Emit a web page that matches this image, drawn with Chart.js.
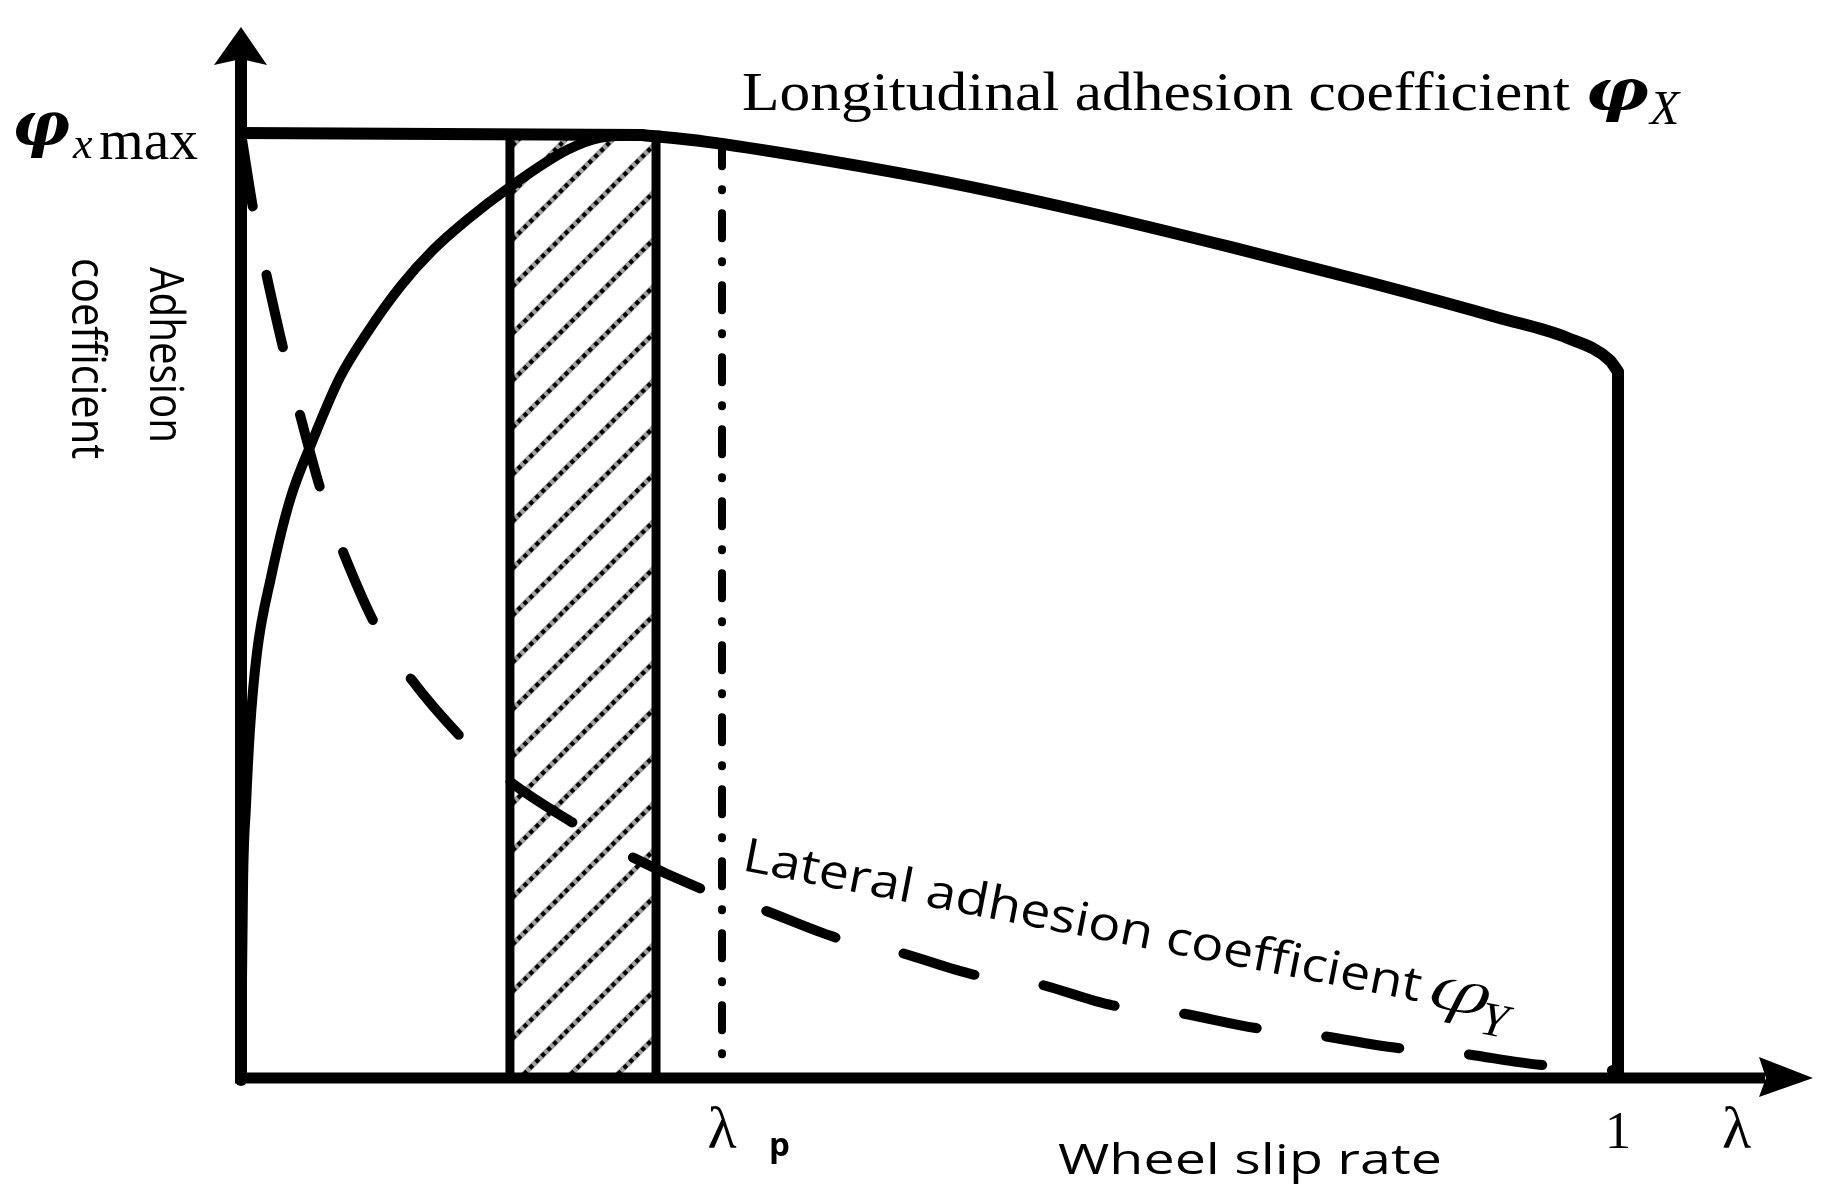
<!DOCTYPE html>
<html>
<head>
<meta charset="utf-8">
<title>Adhesion coefficient vs wheel slip rate</title>
<script src="https://cdn.jsdelivr.net/npm/chart.js@4.4.0/dist/chart.umd.min.js"></script>
<style>
  html, body { margin: 0; padding: 0; background: #fff; }
  #grafico { display: block; }
</style>
</head>
<body>
<canvas id="grafico" width="1838" height="1201"></canvas>
<script>
// longitudinal adhesion coefficient phi_x, rising part (origin -> peak)
var subidaX = [0, 0.0015, 0.0036, 0.0065, 0.0116, 0.0218, 0.0356, 0.0523, 0.0719, 0.0915, 0.1155, 0.1394, 0.1641, 0.1954, 0.2367, 0.2607, 0.2912];
var subidaY = [0, 0.207, 0.288, 0.369, 0.451, 0.531, 0.613, 0.677, 0.743, 0.790, 0.839, 0.878, 0.910, 0.945, 0.984, 0.997, 1.0];

// phi_x after the peak, down to slip rate 1
var quedaX = [0.2912, 0.337, 0.413, 0.516, 0.617, 0.719, 0.821, 0.914, 0.963, 0.994, 1.0];
var quedaY = [1.0, 0.993, 0.976, 0.949, 0.917, 0.881, 0.843, 0.806, 0.785, 0.761, 0.749];

// phi_x max line and the drop at slip rate 1
var maxX = [0, 0.2912];
var maxY = [1.002, 1.0];
var fimX = [1.0, 1.0];
var fimY = [0.749, 0];

// lateral adhesion coefficient phi_y (dashed)
var lateralX = [0, 0.0102, 0.0189, 0.0327, 0.0429, 0.0595, 0.0741, 0.0988, 0.122, 0.162, 0.193, 0.244, 0.279, 0.337, 0.376, 0.434, 0.476, 0.534, 0.575, 0.633, 0.677, 0.737, 0.779, 0.839, 0.881, 0.943, 0.983, 1.0];
var lateralY = [1.002, 0.910, 0.849, 0.761, 0.703, 0.616, 0.558, 0.477, 0.426, 0.358, 0.317, 0.268, 0.238, 0.199, 0.180, 0.148, 0.134, 0.109, 0.101, 0.077, 0.070, 0.053, 0.046, 0.032, 0.027, 0.014, 0.011, 0.007];

// hatched band and the optimal slip rate lambda_p
var zonaX = [0.1953, 0.1953, 0.3014, 0.3014];
var zonaY = [0, 1.0, 1.0, 0];
var lambdaP = 0.3493;
var lambdaPTopo = 0.987;

// tick labels on the slip axis
var ticksValores = [lambdaP, 1];
var ticksTextos = ["\u03bb", "1"];
var eixoXNome = "\u03bb";
var eixoXNomePos = 1.086;

function pontos(xs, ys) {
  var lista = [];
  for (var i = 0; i < xs.length; i++) {
    lista.push({ x: xs[i], y: ys[i] });
  }
  return lista;
}

function criarHachura(ctx) {
  var t = 47;
  var c = document.createElement("canvas");
  c.width = t;
  c.height = t;
  var g = c.getContext("2d");
  g.fillStyle = "#fff";
  g.fillRect(0, 0, t, t);
  var linhas = [[-5, 5, 5, -5], [-5, t + 5, t + 5, -5], [t - 5, t + 5, t + 5, t - 5]];
  for (var k = 0; k < linhas.length; k++) {
    var l = linhas[k];
    g.beginPath();
    g.moveTo(l[0], l[1]);
    g.lineTo(l[2], l[3]);
    g.strokeStyle = "#a0a0a0";
    g.lineWidth = 5.5;
    g.stroke();
    g.setLineDash([4.2, 4.2]);
    g.strokeStyle = "#000";
    g.lineWidth = 4.2;
    g.stroke();
    g.setLineDash([]);
  }
  return ctx.createPattern(c, "repeat");
}

function escrever(ctx, txt, fonte, x, y, largura, angulo, alinhar, afinar) {
  ctx.save();
  ctx.font = fonte;
  ctx.textAlign = "left";
  ctx.textBaseline = "alphabetic";
  ctx.translate(x, y);
  if (angulo) ctx.rotate(angulo);
  var w = ctx.measureText(txt).width;
  var sx = largura ? largura / w : 1;
  ctx.scale(sx, 1);
  var dx = alinhar === "center" ? -w / 2 : 0;
  ctx.fillText(txt, dx, 0);
  if (afinar) {
    // thin the glyph strokes a little
    ctx.strokeStyle = "#fff";
    ctx.lineWidth = afinar;
    ctx.strokeText(txt, dx, 0);
  }
  ctx.restore();
}

var eixos = {
  id: "eixos",
  afterDatasetsDraw: function (chart) {
    var ctx = chart.ctx;
    var area = chart.chartArea;
    var x0 = chart.scales.x.getPixelForValue(0);
    var y0 = chart.scales.y.getPixelForValue(0);
    ctx.save();
    ctx.strokeStyle = "#000";
    ctx.fillStyle = "#000";

    // vertical axis
    ctx.lineWidth = 12;
    ctx.lineCap = "round";
    ctx.beginPath();
    ctx.moveTo(x0, y0 + 2);
    ctx.lineTo(x0, area.top + 34);
    ctx.stroke();
    ctx.beginPath();
    ctx.moveTo(x0, area.top);
    ctx.lineTo(x0 + 26, area.top + 38);
    ctx.lineTo(x0, area.top + 32);
    ctx.lineTo(x0 - 27, area.top + 38);
    ctx.closePath();
    ctx.fill();

    // horizontal axis
    ctx.lineWidth = 11;
    ctx.lineCap = "butt";
    ctx.beginPath();
    ctx.moveTo(x0 - 6, y0);
    ctx.lineTo(area.right - 48, y0);
    ctx.stroke();
    ctx.beginPath();
    ctx.moveTo(area.right, y0);
    ctx.lineTo(area.right - 54, y0 - 21);
    ctx.lineTo(area.right - 47, y0);
    ctx.lineTo(area.right - 54, y0 + 19);
    ctx.closePath();
    ctx.fill();
    ctx.restore();
  },
};

var rotulos = {
  id: "rotulos",
  afterDraw: function (chart) {
    var ctx = chart.ctx;
    var sx = chart.scales.x;
    var sy = chart.scales.y;
    var y0 = sy.getPixelForValue(0);
    var y1 = sy.getPixelForValue(1);
    ctx.save();
    ctx.fillStyle = "#000";

    // phi_x max at the top of the vertical axis
    escrever(ctx, "\u03c6", "bold italic 62px 'DejaVu Serif'", 12, y1 + 10, 58);
    escrever(ctx, "x", "italic 44px 'Liberation Serif'", 73, y1 + 23);
    escrever(ctx, "max", "56px 'Liberation Serif'", 99, y1 + 24, 99);

    // vertical axis title, two lines read downwards
    escrever(ctx, "Adhesion", "48px 'Open Sans'", 150, 267, 176, Math.PI / 2);
    escrever(ctx, "coefficient", "48px 'Open Sans'", 72, 258, 201, Math.PI / 2);

    // curve names
    escrever(ctx, "Longitudinal adhesion coefficient", "55px 'Liberation Serif'", 742, 110, 828);
    escrever(ctx, "\u03c6", "bold italic 58px 'DejaVu Serif'", 1585, 110, 64);
    escrever(ctx, "X", "italic 48px 'Liberation Serif'", 1650, 124);

    var ang = Math.atan2(132, 681);
    escrever(ctx, "Lateral adhesion coefficient", "47px 'Open Sans'", 741, 870, 690, ang);
    escrever(ctx, "\u03c6", "italic 62px 'DejaVu Serif'", 1424, 1006, 64, ang, null, 1.4);
    escrever(ctx, "Y", "italic 48px 'Liberation Serif'", 1478, 1033, null, ang);

    // slip axis ticks and names
    for (var i = 0; i < ticksValores.length; i++) {
      var fonte = i === 0 ? "60px 'Liberation Serif'" : "52px 'Liberation Serif'";
      escrever(ctx, ticksTextos[i], fonte, sx.getPixelForValue(ticksValores[i]), y0 + 70, null, 0, "center");
    }
    escrever(ctx, "p", "bold 33px 'Open Sans'", sx.getPixelForValue(lambdaP) + 47, y0 + 78);
    escrever(ctx, eixoXNome, "60px 'Liberation Serif'", sx.getPixelForValue(eixoXNomePos), y0 + 70, null, 0, "center");
    escrever(ctx, "Wheel slip rate", "42px 'Open Sans'", 1058, 1174, 384);
    ctx.restore();
  },
};

var canvas = document.getElementById("grafico");
var hachura = criarHachura(canvas.getContext("2d"));

var linhaBase = {
  showLine: true,
  borderColor: "#000",
  backgroundColor: "#000",
  pointRadius: 0,
  fill: false,
  borderCapStyle: "round",
  borderJoinStyle: "round",
};

function serie(extra) {
  return Object.assign({}, linhaBase, extra);
}

var dados = {
  datasets: [
    serie({
      label: "zona",
      data: pontos(zonaX, zonaY),
      borderWidth: 9,
      borderCapStyle: "butt",
      borderJoinStyle: "miter",
      fill: "origin",
      backgroundColor: hachura,
      tension: 0,
      order: 10,
    }),
    serie({
      label: "lambda p",
      data: pontos([lambdaP, lambdaP], [lambdaPTopo, 0]),
      borderWidth: 8,
      borderDash: [25, 23, 1, 23],
      borderDashOffset: 6,
      tension: 0,
      order: 6,
    }),
    serie({
      label: "lateral",
      data: pontos(lateralX, lateralY),
      borderWidth: 10,
      borderDash: [74, 70],
      borderDashOffset: 0,
      cubicInterpolationMode: "monotone",
      order: 5,
    }),
    serie({
      label: "max",
      data: pontos(maxX, maxY),
      borderWidth: 12,
      tension: 0,
      order: 2,
    }),
    serie({
      label: "subida",
      data: pontos(subidaX, subidaY),
      borderWidth: 10,
      cubicInterpolationMode: "monotone",
      order: 2,
    }),
    serie({
      label: "queda",
      data: pontos(quedaX, quedaY),
      borderWidth: 12,
      cubicInterpolationMode: "monotone",
      order: 2,
    }),
    serie({
      label: "fim",
      data: pontos(fimX, fimY),
      borderWidth: 12,
      tension: 0,
      order: 2,
    }),
  ],
};

var config = {
  type: "scatter",
  data: dados,
  options: {
    responsive: false,
    animation: false,
    devicePixelRatio: 1,
    layout: { padding: { left: 241, right: 25, top: 27, bottom: 123 } },
    plugins: {
      legend: { display: false },
      tooltip: { enabled: false },
    },
    scales: {
      x: { type: "linear", min: 0, max: 1.1416, display: false },
      y: { type: "linear", min: 0, max: 1.1145, display: false },
    },
  },
  plugins: [eixos, rotulos],
};

var meuGrafico = new Chart(canvas, config);
</script>
</body>
</html>
